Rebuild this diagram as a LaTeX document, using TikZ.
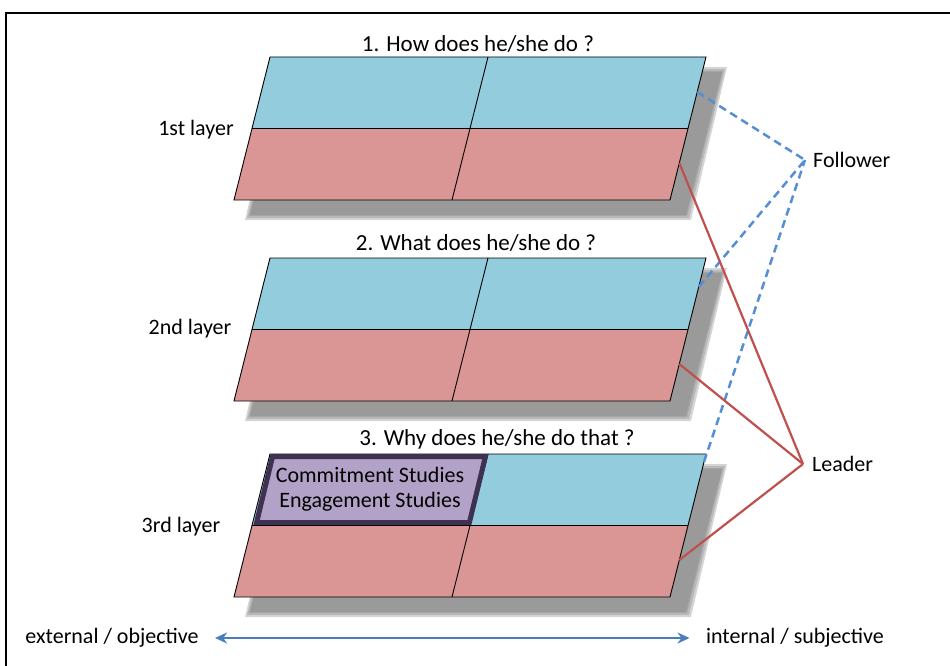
\documentclass[tikz,border=0pt]{standalone}
\usepackage{fontspec}
\setmainfont{Carlito}
\usetikzlibrary{arrows.meta}

\definecolor{cellblue}{HTML}{93CDDD}
\definecolor{cellred}{HTML}{D99694}
\definecolor{boxfill}{HTML}{B3A2C7}
\definecolor{boxedge}{HTML}{3F3151}
\definecolor{followblue}{HTML}{558ED5}
\definecolor{leadred}{HTML}{C0504D}
\definecolor{axisblue}{HTML}{4A7EBB}

\tikzset{
  lbl/.style={font=\fontsize{22}{25}\selectfont},
  title/.style={font=\fontsize{23}{26}\selectfont},
  cell/.style={draw=black, line width=0.9pt},
  followline/.style={followblue, line width=2.5pt, dash pattern=on 8pt off 5pt},
  leadline/.style={leadred, line width=2.2pt},
}

\begin{document}
\begin{tikzpicture}[x=1pt, y=-1pt]
\useasboundingbox (0,0) rectangle (950,666);
\draw[line width=1.5pt] (6,666) -- (6,13) -- (950,13);

% the three layers
\foreach \t/\n/\f in {57/1/35, 258/2/29, 454/3/8} {
  \foreach \b in {5,3,1,0}
    \fill[black!50, opacity=0.33] (286-\b,\t+15-\b) -- (722+\b,\t+15-\b) -- (686+\b,\t+158+\b) -- (250-\b,\t+158+\b) -- cycle;
  \fill[cellblue] (270,\t) -- (706,\t) -- (688,\t+71) -- (252,\t+71) -- cycle;
  \fill[cellred] (252,\t+71) -- (688,\t+71) -- (670,\t+143) -- (234,\t+143) -- cycle;
  \draw[cell] (270,\t) -- (706,\t) -- (670,\t+143) -- (234,\t+143) -- cycle;
  \draw[cell] (252,\t+71) -- (688,\t+71);
  \draw[cell] (488,\t) -- (452,\t+143);
  \coordinate (fol\n) at ({706-36*\f/143},\t+\f);
  \coordinate (lea\n) at ({706-36*106/143},\t+106);
}

% highlighted cell
\draw[boxedge, line width=5pt, fill=boxfill] (272.6,456.5) -- (485.4,456.5) -- (469.4,522.5) -- (256.6,522.5) -- cycle;
\node[lbl, align=center] (studies) at (370,489) {Commitment Studies\\Engagement Studies};

\node[title] (q1) at (478,44) {1. How does he/she do ?};
\node[title] (q2) at (476,243) {2. What does he/she do ?};
\node[title] (q3) at (497,439) {3. Why does he/she do that ?};

\node[lbl] (layer1) at (196,130) {1st layer};
\node[lbl] (layer2) at (190,329) {2nd layer};
\node[lbl] (layer3) at (181,527) {3rd layer};

\node[lbl, anchor=west, inner xsep=8pt] (follower) at (805,160) {Follower};
\node[lbl, anchor=west, inner xsep=9pt] (leader) at (803,464) {Leader};

\draw[followline] (fol1) -- (follower.west);
\draw[followline] (fol2) -- (follower.west);
\draw[followline] (fol3) -- (follower.west);
\draw[leadline] (lea1) -- (leader.west);
\draw[leadline] (lea2) -- (leader.west);
\draw[leadline] (lea3) -- (leader.west);

\node[lbl] (external) at (112,638) {external / objective};
\node[lbl] (internal) at (795,638) {internal / subjective};
\draw[axisblue, line width=2pt, {Stealth[length=12pt,width=11pt]}-{Stealth[length=12pt,width=11pt]}, shorten <=13pt, shorten >=13pt] (external) -- (internal);
\end{tikzpicture}
\end{document}
